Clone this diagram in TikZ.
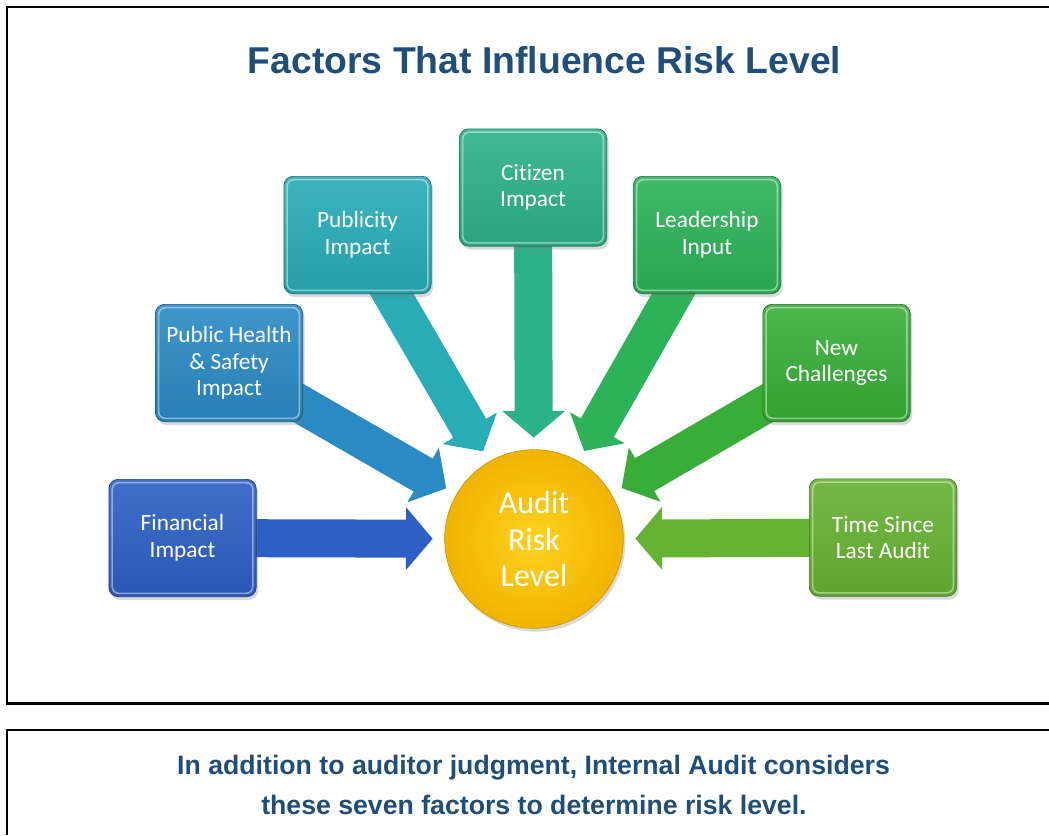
\documentclass[tikz,border=0pt]{standalone}
\usepackage{fontspec}
\newfontfamily\labelfont[Ligatures=NoCommon]{Carlito}
\newfontfamily\headfont{Liberation Sans}
\usetikzlibrary{arrows.meta,shadows}
\pgfdeclarelayer{back}
\pgfsetlayers{back,main}

\definecolor{titleblue}{RGB}{31,78,121}
\definecolor{cFin}{RGB}{44,96,196}
\definecolor{cPhs}{RGB}{42,138,196}
\definecolor{cPub}{RGB}{40,172,182}
\definecolor{cCit}{RGB}{44,178,136}
\definecolor{cLead}{RGB}{44,178,88}
\definecolor{cNew}{RGB}{56,174,56}
\definecolor{cTime}{RGB}{102,178,50}
\definecolor{goldIn}{RGB}{255,210,30}
\definecolor{goldOut}{RGB}{240,180,0}

\tikzset{
  factor/.style={rounded corners=7pt, minimum width=110.5pt, minimum height=88pt,
    inner sep=0pt, align=center, text=white,
    font=\labelfont\fontsize{17.5}{20}\selectfont,
    top color=#1!90!white, bottom color=#1!92!black,
    draw=#1!65!black, line width=0.5pt,
    drop shadow={shadow xshift=1.5pt, shadow yshift=-2.5pt, opacity=0.3},
    path picture={\draw[white, opacity=0.45, line width=1.2pt, rounded corners=5pt]
      ([shift={(2.5pt,-2.5pt)}]path picture bounding box.north west) rectangle
      ([shift={(-2.5pt,2.5pt)}]path picture bounding box.south east);}},
  feed/.style={draw=#1, line width=28.5pt,
    -{Triangle[length=20pt, width=46pt]}, shorten >=9pt},
  frame/.style={line width=1.9pt, black},
  heading/.style={font=\headfont\bfseries\fontsize{28}{32}\selectfont, text=titleblue},
  note/.style={font=\headfont\bfseries\fontsize{20}{24}\selectfont, text=titleblue}
}

\begin{document}
\begin{tikzpicture}[x=0.75pt, y=-0.75pt]
\useasboundingbox (0,0) rectangle (1049,835);
\begin{pgfonlayer}{back}
  \fill[white] (0,0) rectangle (1049,835);
\end{pgfonlayer}

% outer frames
\draw[frame] (1049,7) -- (7,7) -- (7,703.3) -- (1049,703.3);
\draw[frame] (1049,730) -- (7,730) -- (7,835);

% heading and note
\node[heading, anchor=base] (title) at (544.5,73) {Factors That Influence Risk Level};
\node[note, anchor=base] (note1) at (533.5,774) {In addition to auditor judgment, Internal Audit considers};
\node[note, anchor=base] (note2) at (534,814) {these seven factors to determine risk level.};

% central result
\node[circle, minimum size=134pt, inner sep=0pt, outer sep=0pt,
      inner color=goldIn, outer color=goldOut, draw=goldOut!85!black, line width=0.5pt,
      drop shadow={shadow xshift=1.5pt, shadow yshift=-2.5pt, opacity=0.3},
      text=white, align=center, font=\labelfont\fontsize{24}{27.5}\selectfont]
      (risk) at (534,539) {Audit\\Risk\\Level};

% the seven factors
\node[factor=cFin]  (fin)  at (182.5,538) {Financial\\Impact};
\node[factor=cPhs]  (phs)  at (229,363)   {Public Health\\\& Safety\\Impact};
\node[factor=cPub]  (pub)  at (357.5,235) {Publicity\\Impact};
\node[factor=cCit]  (cit)  at (533,187.5) {Citizen\\Impact};
\node[factor=cLead] (lead) at (707,235)   {Leadership\\Input};
\node[factor=cNew]  (newc) at (836.5,363) {New\\Challenges};
\node[factor=cTime] (time) at (883,537.5) {Time Since\\Last Audit};

% block arrows into the circle
\begin{pgfonlayer}{back}
  \foreach \b/\c in {fin/cFin, phs/cPhs, pub/cPub, cit/cCit, lead/cLead, newc/cNew, time/cTime}
    \draw[feed=\c] (\b.center) -- (risk);
\end{pgfonlayer}
\end{tikzpicture}
\end{document}
